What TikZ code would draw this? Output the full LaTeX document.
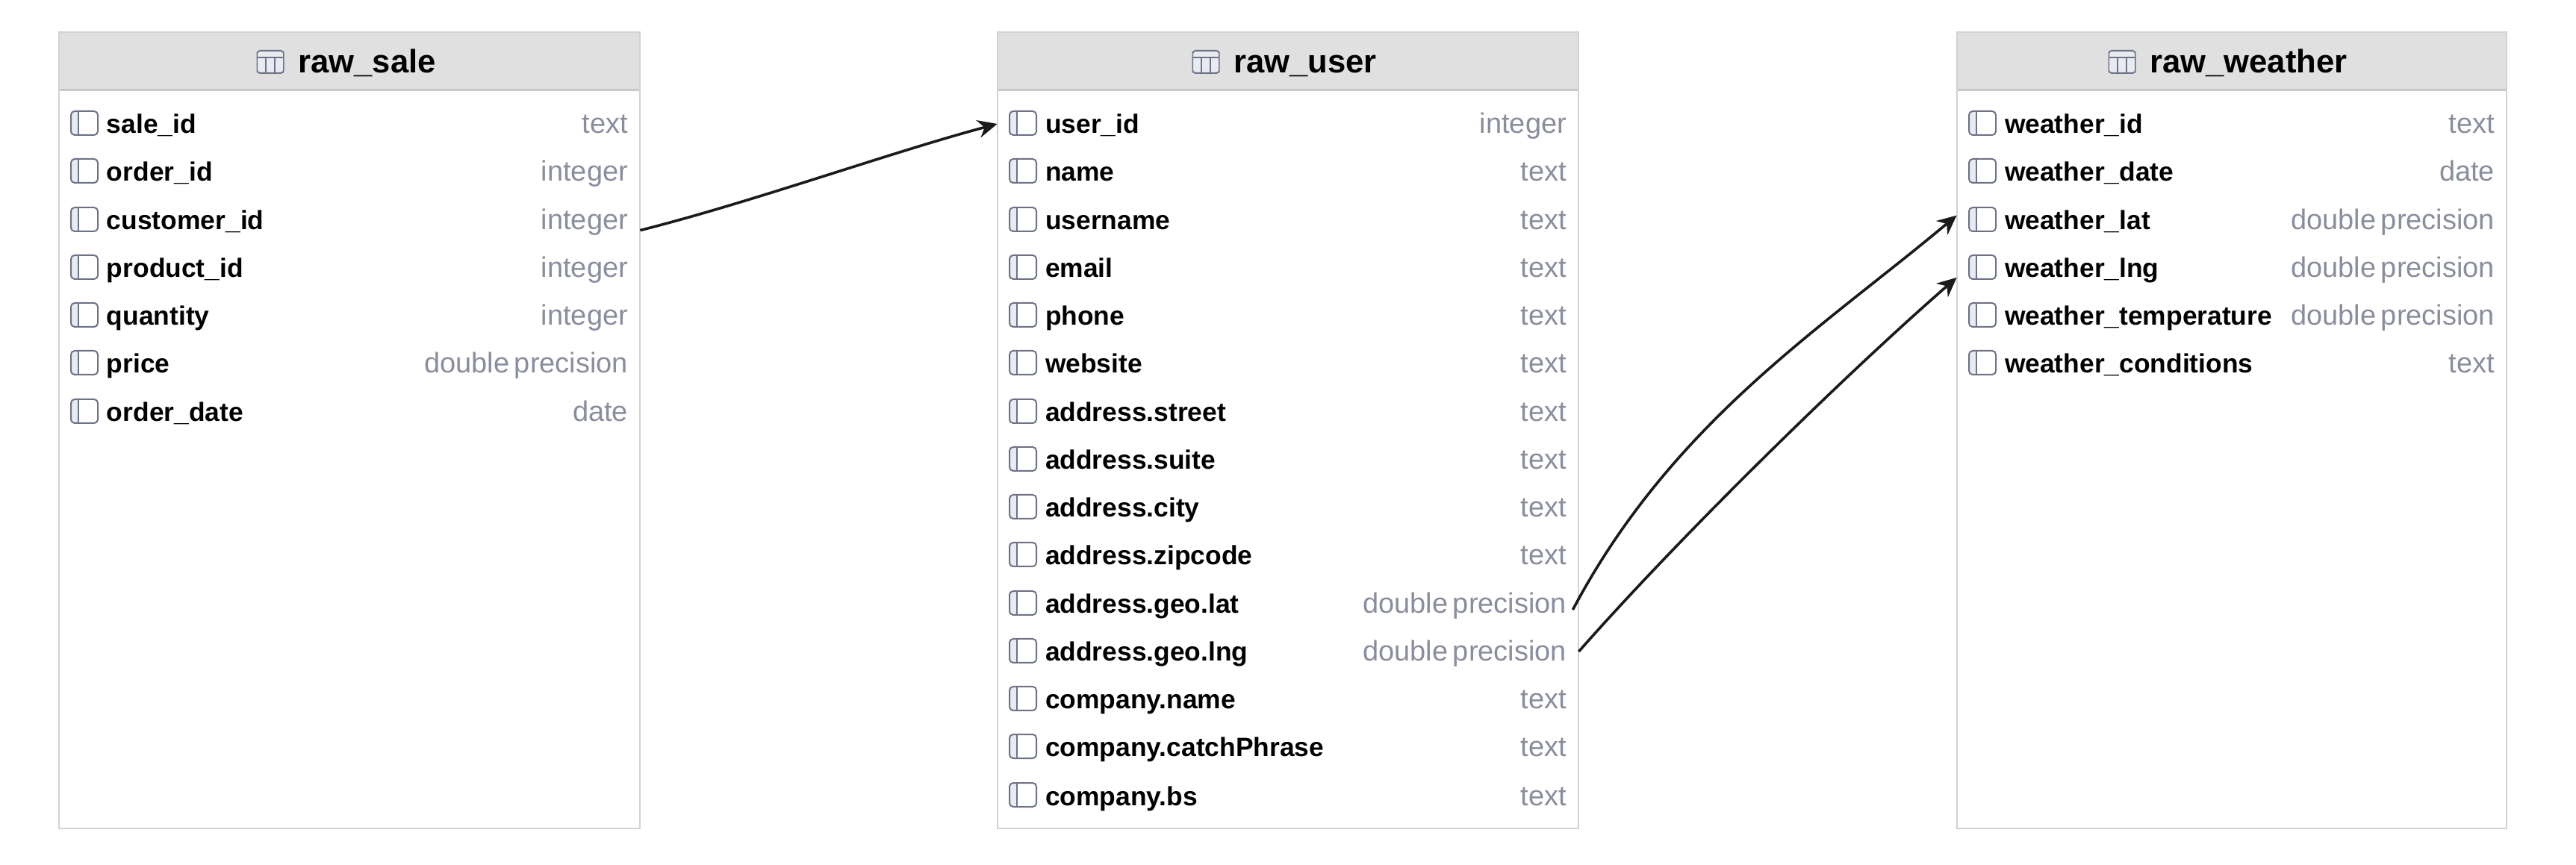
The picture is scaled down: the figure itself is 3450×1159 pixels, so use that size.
\documentclass[tikz,border=0pt]{standalone}
\usepackage{fontspec}
\setmainfont{Liberation Sans}
\usetikzlibrary{arrows.meta,positioning}
\definecolor{headfill}{HTML}{E0E0E0}
\definecolor{headrule}{HTML}{C9C9C9}
\definecolor{tableedge}{HTML}{D2D2D2}
\definecolor{typegrey}{HTML}{8A8D9D}
\definecolor{iconedge}{HTML}{6E7285}
\definecolor{iconfill}{HTML}{E9EBF3}
\definecolor{linkblack}{HTML}{1A1A1A}
\newcommand{\colname}[1]{\hspace*{24pt}{\fontsize{17.7pt}{20pt}\selectfont\bfseries #1}}
\newcommand{\coltype}[1]{{\fontsize{19pt}{20pt}\selectfont\color{typegrey}#1}}
\tikzset{
  tablebox/.style={
    draw=tableedge,
    line width=1.2pt,
    fill=white,
    inner sep=0pt,
    minimum height=533.5pt
  },
  headbox/.style={
    fill=headfill,
    inner sep=0pt,
    minimum height=38pt
  },
  headline/.style={draw=headrule, line width=1.2pt},
  titletext/.style={
    font=\fontsize{21.8pt}{24pt}\selectfont\bfseries,
    inner sep=0pt,
    text height=15pt,
    text depth=0pt
  },
  tableicon/.style={
    inner sep=0pt,
    minimum width=18.5pt,
    minimum height=16pt,
    path picture={
      \fill[iconfill] (path picture bounding box.south west) rectangle (path picture bounding box.north east);
      \draw[iconedge, line width=1pt, rounded corners=2pt, shift={(path picture bounding box.center)}]
        (-18,-15) rectangle (18,15);
      \draw[iconedge, line width=1pt, shift={(path picture bounding box.center)}]
        (-18,-6) -- (18,-6) (-6,-6) -- (-6,15) (6,-6) -- (6,15);
    }
  },
  rowicon/.style={
    inner sep=0pt,
    minimum width=19pt,
    minimum height=17pt,
    path picture={
      \fill[iconfill, rounded corners=2pt, shift={(path picture bounding box.center)}]
        (-18,-16) rectangle (-8,16);
      \draw[iconedge, line width=1pt, rounded corners=2.5pt, shift={(path picture bounding box.center)}]
        (-18,-16) rectangle (18,16);
      \draw[iconedge, line width=1pt, shift={(path picture bounding box.center)}]
        (-8,-16) -- (-8,16);
    }
  },
  rowbox/.style={
    inner xsep=8pt,
    inner ysep=0pt,
    minimum height=32pt,
    text height=14.5pt,
    text depth=1.5pt,
    align=left,
    label={[rowicon, anchor=west, xshift=7.5pt, yshift=0.5pt]west:{}}
  },
  widerow/.style={rowbox, minimum width=389pt, text width=373pt},
  slimrow/.style={rowbox, minimum width=368pt, text width=352pt},
  reflink/.style={
    draw=linkblack,
    line width=1.8pt,
    -{Stealth[length=13pt,width=12pt]}
  }
}
\begin{document}
\begin{tikzpicture}[x=0.5pt,y=-0.5pt]
\useasboundingbox (0,0) rectangle (3450,1159);

% --- raw_sale table ---
\node[tablebox, minimum width=389pt] (saletable) at (468,576.5) {};
\node[headbox, minimum width=388pt] (salehead) at (468,82) {};
\draw[headline] (salehead.south west) -- (salehead.south east);
\node[titletext, anchor=west] (saletitle) at (399,83) {raw\_sale};
\node[tableicon, left=9pt of saletitle] (saleicon) {};
\node[widerow] (saleid) at (468,166) {\colname{sale\_id}\hfill\coltype{text}};
\node[widerow] (orderid) at (468,230) {\colname{order\_id}\hfill\coltype{integer}};
\node[widerow] (customerid) at (468,295) {\colname{customer\_id}\hfill\coltype{integer}};
\node[widerow] (productid) at (468,359) {\colname{product\_id}\hfill\coltype{integer}};
\node[widerow] (quantity) at (468,423) {\colname{quantity}\hfill\coltype{integer}};
\node[widerow] (price) at (468,487) {\colname{price}\hfill\coltype{double precision}};
\node[widerow] (orderdate) at (468,552) {\colname{order\_date}\hfill\coltype{date}};

% --- raw_user table ---
\node[tablebox, minimum width=389pt] (usertable) at (1725,576.5) {};
\node[headbox, minimum width=388pt] (userhead) at (1725,82) {};
\draw[headline] (userhead.south west) -- (userhead.south east);
\node[titletext, anchor=west] (usertitle) at (1652,83) {raw\_user};
\node[tableicon, left=9pt of usertitle] (usericon) {};
\node[widerow] (userid) at (1725,166) {\colname{user\_id}\hfill\coltype{integer}};
\node[widerow] (username) at (1725,230) {\colname{name}\hfill\coltype{text}};
\node[widerow] (userlogin) at (1725,295) {\colname{username}\hfill\coltype{text}};
\node[widerow] (email) at (1725,359) {\colname{email}\hfill\coltype{text}};
\node[widerow] (phone) at (1725,423) {\colname{phone}\hfill\coltype{text}};
\node[widerow] (website) at (1725,487) {\colname{website}\hfill\coltype{text}};
\node[widerow] (street) at (1725,552) {\colname{address.street}\hfill\coltype{text}};
\node[widerow] (suite) at (1725,616) {\colname{address.suite}\hfill\coltype{text}};
\node[widerow] (city) at (1725,680) {\colname{address.city}\hfill\coltype{text}};
\node[widerow] (zipcode) at (1725,744) {\colname{address.zipcode}\hfill\coltype{text}};
\node[widerow] (geolat) at (1725,809) {\colname{address.geo.lat}\hfill\coltype{double precision}};
\node[widerow] (geolng) at (1725,873) {\colname{address.geo.lng}\hfill\coltype{double precision}};
\node[widerow] (company) at (1725,937) {\colname{company.name}\hfill\coltype{text}};
\node[widerow] (phrase) at (1725,1001) {\colname{company.catchPhrase}\hfill\coltype{text}};
\node[widerow] (bs) at (1725,1066) {\colname{company.bs}\hfill\coltype{text}};

% --- raw_weather table ---
\node[tablebox, minimum width=368pt] (weathertable) at (2989,576.5) {};
\node[headbox, minimum width=367pt] (weatherhead) at (2989,82) {};
\draw[headline] (weatherhead.south west) -- (weatherhead.south east);
\node[titletext, anchor=west] (weathertitle) at (2879,83) {raw\_weather};
\node[tableicon, left=9pt of weathertitle] (weathericon) {};
\node[slimrow] (weatherid) at (2989,166) {\colname{weather\_id}\hfill\coltype{text}};
\node[slimrow] (weatherdate) at (2989,230) {\colname{weather\_date}\hfill\coltype{date}};
\node[slimrow] (weatherlat) at (2989,295) {\colname{weather\_lat}\hfill\coltype{double precision}};
\node[slimrow] (weatherlng) at (2989,359) {\colname{weather\_lng}\hfill\coltype{double precision}};
\node[slimrow] (weathertemp) at (2989,423) {\colname{weather\_temperature}\hfill\coltype{double precision}};
\node[slimrow] (weathercond) at (2989,487) {\colname{weather\_conditions}\hfill\coltype{text}};

% --- References between tables ---
\draw[reflink] (customerid.-2.4) .. controls (1010,270) and (1190,205) .. (userid.west);
\draw[reflink] ([shift={(-8,8)}]geolat.east) .. controls (2240,565) and (2440,440) .. (weatherlat.179.2);
\draw[reflink] (geolng.east) .. controls (2248,721) and (2469,504) .. (weatherlng.182.8);

\end{tikzpicture}
\end{document}
